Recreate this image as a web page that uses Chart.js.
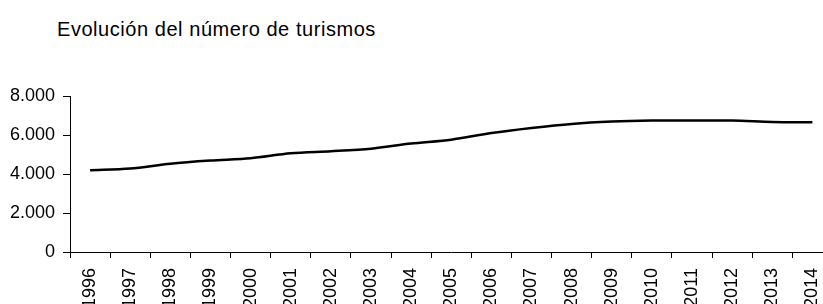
<!DOCTYPE html>
<html>
<head>
<meta charset="utf-8">
<script src="https://cdn.jsdelivr.net/npm/chart.js@4.4.1/dist/chart.umd.min.js"></script>
<style>
  body { margin: 0; overflow: hidden; background: #fff; }
  #wrap { position: relative; width: 844px; height: 304px; }
  #title {
    position: absolute; left: 57px; top: 18px;
    font-family: 'Liberation Sans', Arial, sans-serif; font-size: 20px; letter-spacing: 0.55px; color: #000;
  }
  #myChart { position: absolute; left: 0; top: 0; }
</style>
</head>
<body>
<div id="wrap">
  <div id="title">Evolución del número de turismos</div>
  <canvas id="myChart" width="844" height="304"></canvas>
</div>
<script>
// data
const years = ['1996', '1997', '1998', '1999', '2000', '2001', '2002', '2003', '2004', '2005',
               '2006', '2007', '2008', '2009', '2010', '2011', '2012', '2013', '2014'];
const turismos = [4190, 4280, 4530, 4690, 4805, 5060, 5165, 5300, 5560, 5760,
                  6100, 6360, 6570, 6690, 6740, 6740, 6740, 6670, 6650];
const yTicks = [0, 2000, 4000, 6000, 8000];

const font = { family: "'Liberation Sans', Arial, sans-serif", size: 18 };

var ctx = document.getElementById('myChart');
new Chart(ctx, {
    type: 'line',
    data: {
        labels: years,
        datasets: [{
            data: turismos,
            borderColor: '#000',
            borderWidth: 2.5,
            pointRadius: 0,
            tension: 0.3,
            fill: false,
        }]
    },
    options: {
        responsive: false,
        animation: false,
        layout: { padding: { top: 96, left: 0, right: 0, bottom: 0 } },
        plugins: { legend: { display: false }, tooltip: { enabled: false } },
        scales: {
            x: {
                offset: true,
                grid: { offset: true, drawOnChartArea: false, tickLength: 6, color: '#000' },
                border: { color: '#000', width: 1 },
                ticks: { color: '#000', font: font, minRotation: 90, maxRotation: 90, padding: 10, autoSkip: false },
                afterFit: function (scale) { scale.height = 52; }
            },
            y: {
                min: 0,
                max: 8000,
                afterBuildTicks: function (scale) { scale.ticks = yTicks.map(v => ({ value: v })); },
                grid: { drawOnChartArea: false, tickLength: 7, color: '#000' },
                border: { color: '#000', width: 1 },
                ticks: {
                    color: '#000', font: font, padding: 8,
                    callback: v => v.toLocaleString('de-DE')
                },
                afterFit: function (scale) { scale.width = 70; }
            }
        }
    }
});
</script>
</body>
</html>
